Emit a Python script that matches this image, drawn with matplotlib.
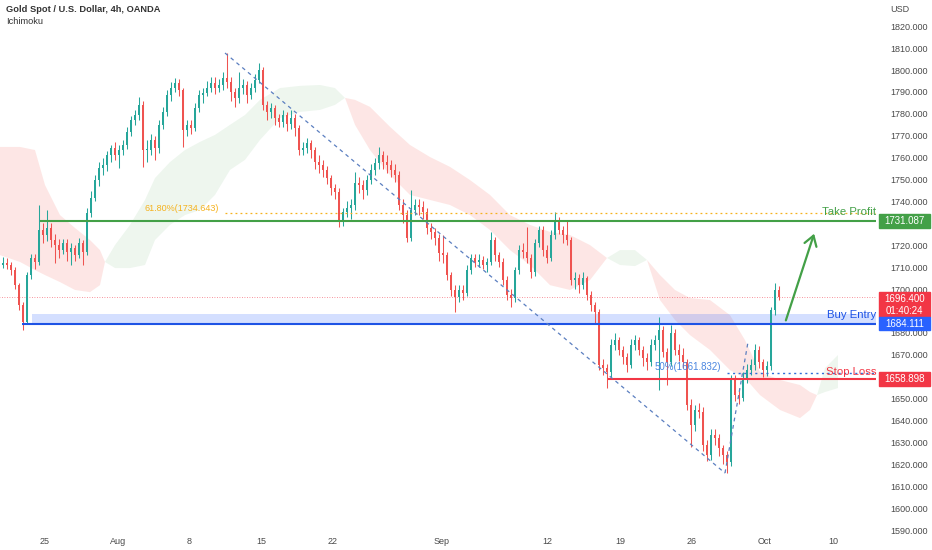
import matplotlib
matplotlib.use("Agg")
import matplotlib.pyplot as plt
from matplotlib.patches import Rectangle
import numpy as np

plt.rcParams['font.family'] = ['Liberation Sans', 'DejaVu Sans']

# 4h-ish candles (bar index on x)
first_open = 1711.0
closes = [
    1712.0, 1711.0, 1708.7, 1701.8, 1692.7, 1685.0, 1706.4, 1714.2, 1712.3, 1727.0,
    1724.7, 1728.0, 1722.4, 1720.1, 1717.8, 1721.0, 1717.0, 1718.8, 1715.5, 1721.0,
    1717.0, 1734.8, 1741.6, 1749.8, 1755.3, 1756.7, 1761.2, 1764.4, 1761.2, 1763.5,
    1765.8, 1771.8, 1777.2, 1779.5, 1784.1, 1763.5, 1763.5, 1768.1, 1764.4, 1775.0,
    1780.9, 1788.6, 1791.8, 1794.1, 1790.9, 1772.7, 1775.0, 1773.6, 1782.7, 1788.6,
    1789.5, 1791.8, 1794.1, 1791.8, 1793.2, 1796.4, 1794.6, 1790.0, 1787.3, 1791.8,
    1793.2, 1788.6, 1791.8, 1795.5, 1800.0, 1784.1, 1780.9, 1782.7, 1778.1, 1776.3,
    1779.5, 1775.4, 1778.1, 1773.6, 1763.5, 1764.4, 1766.7, 1763.5, 1758.1, 1756.7,
    1754.4, 1750.7, 1746.2, 1744.4, 1730.6, 1735.2, 1737.0, 1738.4, 1748.5, 1747.6,
    1745.3, 1749.8, 1754.4, 1757.6, 1761.2, 1758.1, 1756.7, 1754.4, 1752.1, 1738.4,
    1733.8, 1723.3, 1736.1, 1738.4, 1737.5, 1735.2, 1727.9, 1726.1, 1723.3, 1716.5,
    1715.5, 1706.4, 1699.6, 1696.4, 1699.6, 1698.2, 1708.7, 1714.2, 1712.3, 1713.3,
    1711.0, 1712.3, 1722.4, 1715.5, 1712.3, 1704.1, 1697.3, 1695.9, 1708.7, 1717.8,
    1716.9, 1714.2, 1707.8, 1721.0, 1727.0, 1717.8, 1714.2, 1724.7, 1730.6, 1727.0,
    1724.7, 1722.4, 1704.1, 1705.0, 1701.8, 1705.0, 1697.3, 1692.7, 1689.5, 1665.3,
    1663.9, 1662.1, 1674.5, 1676.7, 1672.2, 1669.0, 1665.3, 1674.5, 1676.7, 1672.2,
    1668.5, 1666.7, 1674.5, 1676.7, 1681.3, 1671.3, 1666.7, 1680.0, 1672.2, 1669.9,
    1666.7, 1647.1, 1637.9, 1644.8, 1643.9, 1628.8, 1624.2, 1633.4, 1632.0, 1627.4,
    1624.2, 1621.0, 1658.5, 1651.6, 1650.2, 1659.4, 1663.0, 1665.3, 1672.2, 1666.7,
    1663.0, 1664.9, 1690.4, 1699.6, 1696.4]
highs = [
    1714.5, 1714, 1712.5, 1710, 1703, 1694, 1708, 1716, 1716, 1738.4,
    1730, 1736, 1730, 1725, 1723, 1723, 1723, 1721, 1720, 1723.5,
    1722.5, 1737, 1745, 1752, 1758, 1760, 1763, 1766, 1767, 1766,
    1768, 1774, 1779, 1782, 1787.7, 1786, 1768, 1771, 1770, 1777,
    1783, 1791, 1794.5, 1796.5, 1796, 1792, 1777, 1777, 1785, 1791,
    1792, 1795, 1797, 1797, 1796, 1799, 1807.8, 1797, 1792, 1799,
    1796, 1795, 1794, 1798, 1803.3, 1801.5, 1786, 1785, 1784, 1780,
    1782, 1781, 1782, 1780, 1775, 1767, 1769, 1768, 1765, 1761,
    1759, 1756, 1752, 1748, 1746, 1737, 1740, 1741, 1753.5, 1751,
    1750, 1752, 1757, 1760, 1764.9, 1763, 1761, 1759, 1757, 1754,
    1741, 1736, 1745.3, 1741, 1741, 1740, 1737, 1730, 1728, 1725,
    1724.7, 1717, 1708, 1702, 1702, 1702, 1711, 1716, 1716, 1716,
    1715, 1714, 1726, 1724, 1717, 1714, 1706, 1700, 1710, 1720,
    1721, 1728.3, 1716, 1723, 1729, 1729, 1720, 1727, 1735.2, 1733,
    1729, 1731, 1724, 1708, 1707, 1708, 1706, 1699, 1694, 1691,
    1668, 1666, 1677, 1680, 1678, 1674, 1671, 1677, 1679, 1678,
    1674, 1671, 1677, 1679, 1687.2, 1683, 1673, 1683.5, 1682, 1675,
    1673, 1668, 1650, 1647, 1648, 1646, 1631, 1636, 1636, 1634,
    1629, 1626, 1661, 1661, 1655, 1662, 1666, 1668, 1675, 1674,
    1668, 1667, 1692, 1702.8, 1701.5]
lows = [
    1709.5, 1709, 1706.5, 1700, 1690.5, 1681.3, 1684, 1704.5, 1709, 1711,
    1721, 1722, 1719, 1712, 1714, 1716, 1713, 1711, 1713, 1714,
    1711, 1715.5, 1733, 1740, 1747, 1752, 1754, 1758, 1759, 1755.5,
    1761, 1764, 1770, 1775, 1777, 1755.8, 1758, 1761, 1759, 1762,
    1773, 1779, 1786, 1790, 1788, 1765, 1770, 1771, 1772, 1781,
    1785, 1788, 1790, 1789, 1790, 1791, 1792, 1786, 1783, 1785,
    1789, 1785, 1787, 1790, 1794, 1782, 1777, 1778, 1775, 1774,
    1774, 1772, 1773, 1770, 1761, 1761, 1762, 1760, 1755, 1753,
    1751, 1748, 1743, 1741, 1728.3, 1729, 1733, 1732, 1736, 1744,
    1741, 1743, 1748, 1752, 1755, 1755, 1753, 1751, 1749, 1736,
    1730, 1721.5, 1722, 1734, 1734, 1732, 1725, 1723, 1720, 1713,
    1712, 1704, 1697, 1689.5, 1694, 1695, 1697, 1707, 1710, 1710,
    1709, 1708, 1711, 1713, 1710, 1702, 1695, 1691.8, 1694, 1707,
    1714, 1712, 1705, 1706, 1719, 1715, 1712, 1713, 1723, 1725,
    1721, 1720, 1702, 1700, 1698, 1700, 1695, 1690, 1684, 1663,
    1661, 1654.8, 1660, 1672, 1670, 1666, 1662, 1664, 1672, 1670,
    1665, 1663, 1665, 1672, 1653.9, 1669, 1656, 1665, 1670, 1667,
    1664, 1645, 1627.9, 1635, 1641, 1626, 1621.5, 1622, 1629, 1624,
    1620, 1616.0, 1619, 1649, 1647.5, 1649, 1657, 1661, 1663, 1664,
    1660, 1660.5, 1663, 1688, 1695]

# Ichimoku cloud (leading spans), bar positions
cloud_x = [-0.75, 4.25, 8, 10.5, 14.25, 18, 21.75, 24.25, 25.5, 28, 31.75, 35.5, 38,
           41.75, 45.5, 49.25, 53, 56.75, 60.5, 64.25, 69.25, 74.25, 79.25, 83, 85.5,
           88, 91.75, 96.75, 101.75, 106.75, 111.75, 116.75, 121.75, 126.75, 131.75,
           136.75, 141.75, 146.75, 151, 154.25, 158, 161, 164.25, 168, 171.75, 176.75,
           181.75, 185.5, 189.25, 194.25, 199.25, 201.75, 203.5, 205.5, 208.75]
span_a = [1715.5, 1712.4, 1708.7, 1706.4, 1703.2, 1699.6, 1698.6, 1701.8, 1712.4, 1720.1,
          1729.3, 1740.7, 1750.7, 1758.0, 1763.5, 1767.2, 1770.4, 1775.0, 1779.5, 1786.4,
          1791.8, 1792.8, 1793.2, 1791.8, 1787.3, 1775.0, 1763.5, 1752.1, 1743.0, 1740.7,
          1738.4, 1733.8, 1727.0, 1717.8, 1711.0, 1701.8, 1699.6, 1704.1, 1714.2, 1717.8,
          1717.8, 1713.3, 1695.0, 1685.9, 1679.0, 1672.2, 1663.0, 1659.4, 1651.6, 1644.8,
          1641.1, 1644.8, 1651.6, 1663.9, 1669.9]
span_b = [1764.9, 1764.9, 1763.5, 1747.5, 1733.8, 1727.9, 1722.4, 1717.8, 1712.4, 1709.6,
          1709.6, 1711.0, 1722.4, 1729.3, 1733.8, 1736.1, 1743.0, 1754.4, 1759.0, 1768.1,
          1778.1, 1780.9, 1781.8, 1784.1, 1787.3, 1786.4, 1783.2, 1774.1, 1765.8, 1760.3,
          1755.8, 1749.8, 1743.0, 1733.8, 1729.3, 1726.1, 1724.7, 1720.1, 1714.2, 1711.0,
          1710.5, 1713.3, 1706.4, 1699.6, 1695.9, 1695.0, 1688.1, 1676.7, 1662.1, 1658.5,
          1656.2, 1653.0, 1651.6, 1653.0, 1654.8]

date_pos = [10.5, 28.75, 46.5, 64.5, 82.5, 109.75, 136, 154.25, 172.25, 190.5, 207.5]
date_labels = ['25', 'Aug', '8', '15', '22', 'Sep', '12', '19', '26', 'Oct', '10']

take_profit = 1731.087
buy_entry = 1684.111
stop_loss = 1658.898
last_price = 1696.4
fib_618 = 1734.643
fib_50 = 1661.832

UP = '#26a69a'
DOWN = '#ef5350'
X_MAX = 218.25

fig = plt.figure(figsize=(9.32, 5.5), dpi=100)
ax = fig.add_axes([0, 20 / 550, 876 / 932, 530 / 550])

# cloud
ca = np.array(span_a)
cb = np.array(span_b)
ax.fill_between(cloud_x, ca, cb, where=ca >= cb, interpolate=True,
                color='#43a047', alpha=0.09, lw=0)
ax.fill_between(cloud_x, ca, cb, where=ca < cb, interpolate=True,
                color='#f44336', alpha=0.13, lw=0)

# candles
x = np.arange(len(closes))
c = np.array(closes)
o = np.concatenate([[first_open], c[:-1]])
cols = [UP if cc >= oo else DOWN for oo, cc in zip(o, c)]
ax.vlines(x, lows, highs, colors=cols, lw=0.75, zorder=3)
body = np.maximum(np.abs(c - o), 0.35)
ax.bar(x, body, bottom=np.minimum(o, c), width=0.72, color=cols, lw=0, zorder=3)

# levels
ax.fill_between([7.25, X_MAX], buy_entry, 1688.6, color='#2962ff', alpha=0.2, lw=0, zorder=2)
ax.hlines(take_profit, 9.25, X_MAX, color='#43a047', lw=1.5, zorder=4)
ax.hlines(buy_entry, 4.75, X_MAX, color='#1e53e5', lw=1.5, zorder=4)
ax.hlines(stop_loss, 151.25, X_MAX, color='#f23645', lw=1.5, zorder=4)
ax.hlines(fib_618, 55.5, X_MAX, color='#f5b21e', lw=0.9, linestyles=(0, (1.5, 2.5)), zorder=4)
ax.hlines(fib_50, 181, X_MAX, color='#2f6fd8', lw=1.0, linestyles=(0, (1.5, 2.5)), zorder=4)
ax.hlines(last_price, -1, X_MAX, color='#f23645', lw=0.6, alpha=0.7,
          linestyles=(0, (1, 2)), zorder=2)

# fib trend lines
ax.plot([55.5, 180.5], [1807.8, 1616.0], color='#5b7fc0', lw=0.9,
        ls=(0, (3, 3)), zorder=4)
ax.plot([180.5, 186.25], [1616.0, 1675.8], color='#5b7fc0', lw=0.9,
        ls=(0, (3, 3)), zorder=4)

ax.text(54, fib_618 + 2.0, '61.80%(1734.643)', color='#f5b21e', fontsize=6.5,
        ha='right', va='center', zorder=5)
ax.text(179.5, fib_50 + 2.8, '50%(1661.832)', color='#4a86e0', fontsize=7,
        ha='right', va='center', zorder=5)

# arrow
ax.annotate('', xy=(203, 1726.5), xytext=(195.5, 1684.5),
            arrowprops=dict(arrowstyle='->,head_length=0.7,head_width=0.45',
                            color='#43a047', lw=1.6), zorder=5)

ax.text(218.3, 1735.2, 'Take Profit', color='#43a047', fontsize=8.2,
        ha='right', va='center', zorder=6)
ax.text(218.3, 1688.1, 'Buy Entry', color='#1e53e5', fontsize=8.2,
        ha='right', va='center', zorder=6)
ax.text(218.3, 1662.1, 'Stop Loss', color='#f23645', fontsize=8.2,
        ha='right', va='center', zorder=6)

ax.set_xlim(-0.75, X_MAX)
ax.set_ylim(1590, 1832)

# tick labels hidden behind the price tags are left blank
yt = np.arange(1590, 1821, 10)
hidden = {1730, 1690, 1660}
ax.yaxis.tick_right()
ax.set_yticks(yt)
ax.set_yticklabels(['' if v in hidden else f'{v:.3f}' for v in yt])
ax.tick_params(axis='y', length=0, pad=10, labelsize=6.5, labelcolor='#4a4a4a')
ax.set_xticks(date_pos)
ax.set_xticklabels(date_labels)
ax.tick_params(axis='x', length=0, pad=5, labelsize=6.5, labelcolor='#4a4a4a')
for s in ax.spines.values():
    s.set_visible(False)

# price tags on the axis
trans = ax.get_yaxis_transform()
tag_x = 1.0034
tag_w = 51 / 876
px = 1 / 2.189


def price_tag(center, height_px, color, lines):
    h = height_px * px
    ax.add_patch(Rectangle((tag_x, center - h / 2), tag_w, h, transform=trans,
                           color=color, clip_on=False, zorder=10))
    n = len(lines)
    for k, t in enumerate(lines):
        yy = center + h / 2 - (k + 0.5) * h / n
        ax.text(tag_x + tag_w / 2, yy, t, transform=trans, color='white',
                fontsize=7, ha='center', va='center', clip_on=False, zorder=11)


price_tag(take_profit, 14, '#43a047', ['1731.087'])
price_tag(1692.8, 25, '#f23645', ['1696.400', '01:40:24'])
price_tag(buy_entry, 13, '#2962ff', ['1684.111'])
price_tag(stop_loss, 14, '#f23645', ['1658.898'])

fig.text(890 / 932, 1 - 9 / 550, 'USD', fontsize=6.5, color='#4a4a4a', va='center')
fig.text(6 / 932, 1 - 10 / 550, 'Gold Spot / U.S. Dollar, 4h, OANDA', fontsize=6.7,
         fontweight='bold', color='#333333', va='center')
fig.text(6 / 932, 1 - 22 / 550, 'Ichimoku', fontsize=6.7, color='#333333', va='center')

fig.savefig('out.png', dpi=100, facecolor='white')
